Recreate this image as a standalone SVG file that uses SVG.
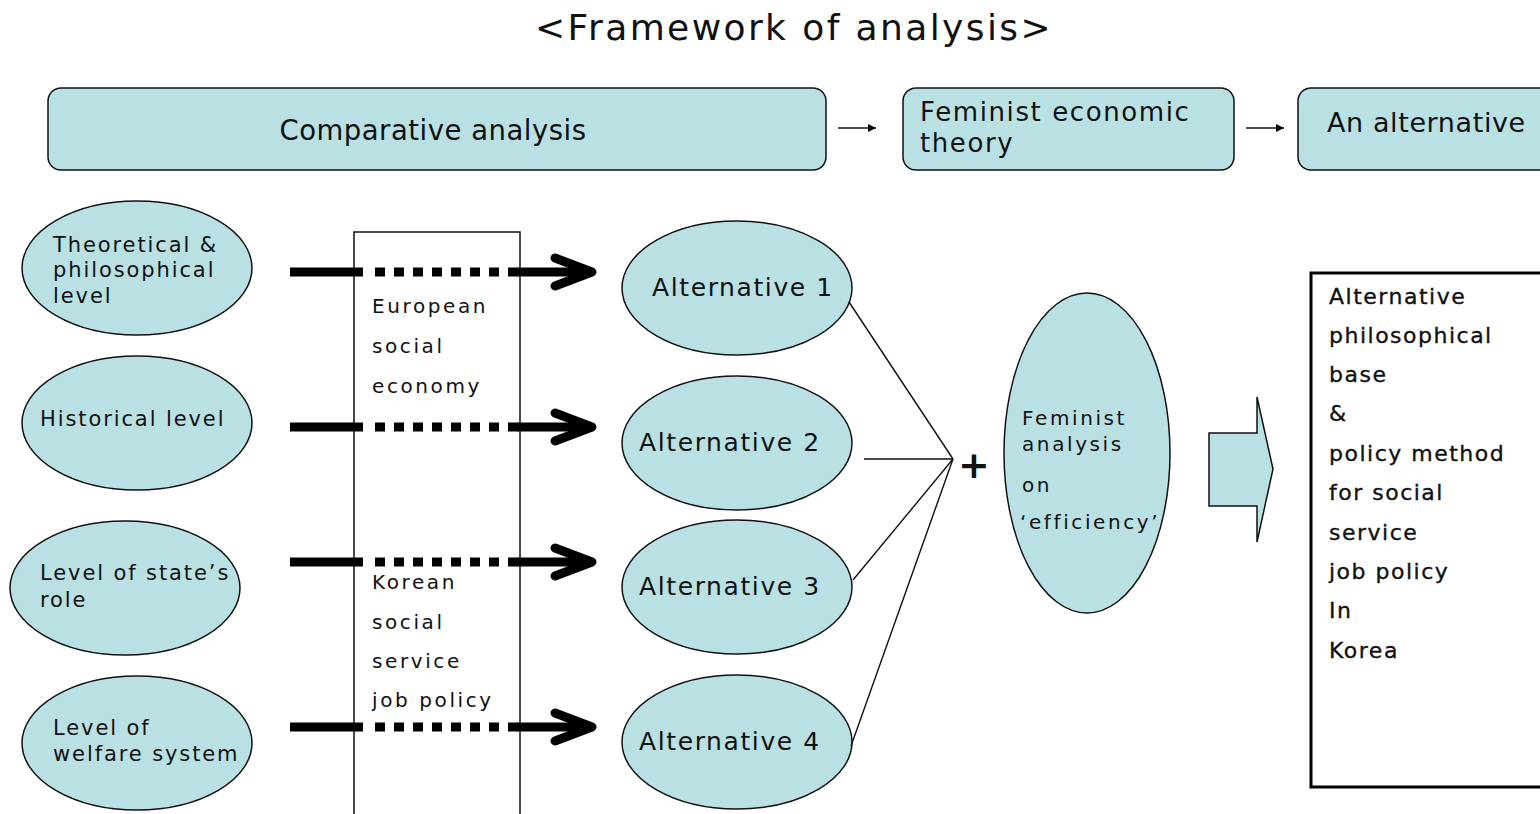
<svg xmlns="http://www.w3.org/2000/svg" width="1540" height="814" viewBox="0 0 1540 814">
  <style>
    text { font-family: "DejaVu Sans", "Liberation Sans", sans-serif; fill: #111; }
    .node { fill: #b9e0e3; stroke: #111; stroke-width: 1.5; }
    .plain { fill: #fff; stroke: #111; stroke-width: 1.5; }
    .thick { stroke: #000; stroke-width: 9; fill: none; }
    .dots { stroke: #000; stroke-width: 9; fill: none; stroke-dasharray: 10 9; }
    .chev { stroke: #000; stroke-width: 9; fill: none; stroke-linecap: round; stroke-linejoin: round; }
    .thin { stroke: #111; stroke-width: 1.4; fill: none; }
    .lv { font-size: 21px; letter-spacing: 1.9px; }
    .alt { font-size: 25px; letter-spacing: 1.6px; }
    .mid { font-size: 20px; letter-spacing: 2.6px; }
    .res { font-size: 22px; letter-spacing: 1.5px; stroke: #111; stroke-width: 0.35; }
  </style>
  <defs>
    <marker id="tri" viewBox="0 0 10 10" refX="10" refY="5" markerWidth="8" markerHeight="8" markerUnits="userSpaceOnUse" orient="auto">
      <path d="M0,0 L10,5 L0,10 z" fill="#000"/>
    </marker>
  </defs>

  <text x="794" y="40" font-size="36" text-anchor="middle" letter-spacing="2.4">&lt;Framework of analysis&gt;</text>

  <!-- top row -->
  <g id="comparative-analysis">
    <rect class="node" x="48" y="88" width="778" height="82" rx="13"/>
    <text x="433" y="140" font-size="27.5" text-anchor="middle" letter-spacing="0.5">Comparative analysis</text>
  </g>
  <g id="feminist-economic-theory">
    <rect class="node" x="903" y="88" width="331" height="82" rx="13"/>
    <text x="920" y="121" font-size="26" letter-spacing="1.6">Feminist economic</text>
    <text x="920" y="152" font-size="26" letter-spacing="1.6">theory</text>
  </g>
  <g id="an-alternative">
    <rect class="node" x="1298" y="88" width="260" height="82" rx="13"/>
    <text x="1327" y="132" font-size="27" letter-spacing="0.6">An alternative</text>
  </g>

  <!-- levels -->
  <g id="level-theoretical">
    <ellipse class="node" cx="137" cy="268" rx="115" ry="67"/>
    <text class="lv" x="53" y="252">Theoretical &amp;</text>
    <text class="lv" x="53" y="277">philosophical</text>
    <text class="lv" x="53" y="303">level</text>
  </g>
  <g id="level-historical">
    <ellipse class="node" cx="137" cy="423" rx="115" ry="67"/>
    <text class="lv" x="40" y="426">Historical level</text>
  </g>
  <g id="level-state">
    <ellipse class="node" cx="125" cy="588" rx="115" ry="67"/>
    <text class="lv" x="40" y="580">Level of state’s</text>
    <text class="lv" x="40" y="607">role</text>
  </g>
  <g id="level-welfare">
    <ellipse class="node" cx="137" cy="743" rx="115" ry="67"/>
    <text class="lv" x="53" y="735">Level of</text>
    <text class="lv" x="53" y="761">welfare system</text>
  </g>

  <!-- policy column -->
  <g id="policy-column">
    <rect class="plain" x="354" y="232" width="166" height="600"/>
    <text class="mid" x="372" y="313">European</text>
    <text class="mid" x="372" y="353">social</text>
    <text class="mid" x="372" y="393">economy</text>
    <text class="mid" x="372" y="589">Korean</text>
    <text class="mid" x="372" y="629">social</text>
    <text class="mid" x="372" y="668">service</text>
    <text class="mid" x="372" y="707">job policy</text>
  </g>

  <!-- alternatives -->
  <g id="alternative-1">
    <ellipse class="node" cx="737" cy="288" rx="115" ry="67"/>
    <text class="alt" x="652" y="296">Alternative 1</text>
  </g>
  <g id="alternative-2">
    <ellipse class="node" cx="737" cy="443" rx="115" ry="67"/>
    <text class="alt" x="639" y="451">Alternative 2</text>
  </g>
  <g id="alternative-3">
    <ellipse class="node" cx="737" cy="587" rx="115" ry="67"/>
    <text class="alt" x="639" y="595">Alternative 3</text>
  </g>
  <g id="alternative-4">
    <ellipse class="node" cx="737" cy="742" rx="115" ry="67"/>
    <text class="alt" x="639" y="750">Alternative 4</text>
  </g>

  <g id="feminist-analysis">
    <ellipse class="node" cx="1087" cy="453" rx="83" ry="160"/>
    <text class="mid" x="1022" y="425" letter-spacing="1.8">Feminist</text>
    <text class="mid" x="1022" y="451" letter-spacing="1.8">analysis</text>
    <text class="mid" x="1022" y="492" letter-spacing="1.8">on</text>
    <text class="mid" x="1020" y="529" letter-spacing="1.2">‘efficiency’</text>
  </g>

  <g id="block-arrow">
    <path class="node" d="M1209,433 H1257 V397 L1273,469 L1257,542 V506 H1209 Z"/>
  </g>

  <g id="result">
    <rect x="1311" y="273" width="250" height="514" fill="#fff" stroke="#000" stroke-width="3"/>
    <text class="res" x="1329" y="304">Alternative</text>
    <text class="res" x="1329" y="343">philosophical</text>
    <text class="res" x="1329" y="382">base</text>
    <text class="res" x="1329" y="421">&amp;</text>
    <text class="res" x="1329" y="461">policy method</text>
    <text class="res" x="1329" y="500">for social</text>
    <text class="res" x="1329" y="540">service</text>
    <text class="res" x="1329" y="579">job policy</text>
    <text class="res" x="1329" y="618">In</text>
    <text class="res" x="1329" y="658">Korea</text>
  </g>

  <!-- connectors -->
  <g id="connectors">
    <line class="thin" x1="838" y1="128" x2="876" y2="128" marker-end="url(#tri)"/>
    <line class="thin" x1="1246" y1="128" x2="1284" y2="128" marker-end="url(#tri)"/>

    <g id="level-arrows">
      <line class="thick" x1="290" y1="272" x2="363" y2="272"/>
      <line class="dots" x1="375" y1="272" x2="518" y2="272"/>
      <line class="thick" x1="517" y1="272" x2="590" y2="272"/>
      <polyline class="chev" points="555,258 592,272 555,286"/>

      <line class="thick" x1="290" y1="427" x2="363" y2="427"/>
      <line class="dots" x1="375" y1="427" x2="518" y2="427"/>
      <line class="thick" x1="517" y1="427" x2="590" y2="427"/>
      <polyline class="chev" points="555,413 592,427 555,441"/>

      <line class="thick" x1="290" y1="562" x2="363" y2="562"/>
      <line class="dots" x1="375" y1="562" x2="518" y2="562"/>
      <line class="thick" x1="517" y1="562" x2="590" y2="562"/>
      <polyline class="chev" points="555,548 592,562 555,576"/>

      <line class="thick" x1="290" y1="727" x2="363" y2="727"/>
      <line class="dots" x1="375" y1="727" x2="518" y2="727"/>
      <line class="thick" x1="517" y1="727" x2="590" y2="727"/>
      <polyline class="chev" points="555,713 592,727 555,741"/>
    </g>

    <g id="merge-lines">
      <line class="thin" x1="849" y1="302" x2="953" y2="459"/>
      <line class="thin" x1="864" y1="459" x2="953" y2="459"/>
      <line class="thin" x1="853" y1="580" x2="953" y2="459"/>
      <line class="thin" x1="851" y1="746" x2="953" y2="459"/>
    </g>
    <text x="974" y="478" font-size="38" font-weight="bold" text-anchor="middle">+</text>
  </g>
</svg>
